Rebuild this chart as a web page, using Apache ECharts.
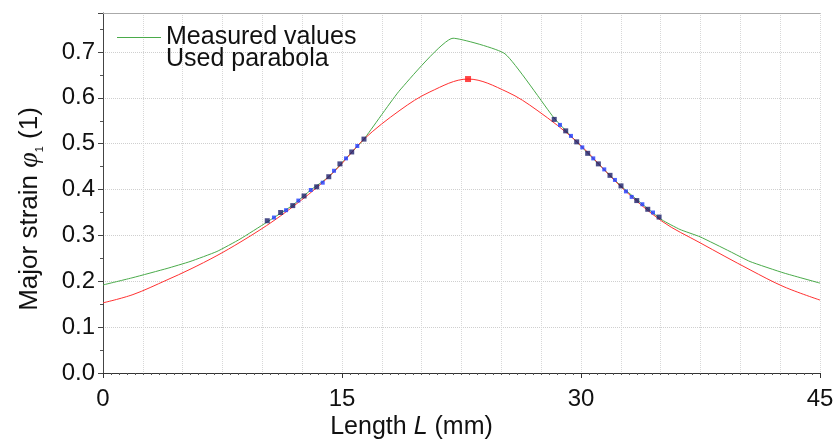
<!DOCTYPE html>
<html>
<head>
<meta charset="utf-8">
<script src="https://cdn.jsdelivr.net/npm/echarts@6/dist/echarts.min.js"></script>
<style>html,body{margin:0;padding:0;background:#fff;}#c{width:837px;height:439px;}</style>
</head>
<body>
<div id="c"></div>
<script>
// Measured values (green polyline)
const measuredX = [0, 1.88, 4.02, 5.46, 7.15, 8.60, 10.29, 11.91, 13.04, 14.17, 15.25, 16.38, 18.64, 21.97, 25.23, 28.31, 29.73, 31.09, 32.50, 33.85, 35.08, 36.21, 37.47, 39.35, 40.61, 42.74, 45.0];
const measuredY = [0.192, 0.208, 0.228, 0.243, 0.265, 0.292, 0.329, 0.366, 0.399, 0.428, 0.468, 0.510, 0.617, 0.730, 0.696, 0.556, 0.504, 0.456, 0.408, 0.368, 0.334, 0.313, 0.297, 0.265, 0.243, 0.218, 0.196];
// Used parabola (red curve)
const parabolaX = [0, 1.88, 4.02, 5.46, 7.15, 8.60, 9.85, 10.67, 11.55, 13.37, 14.87, 16.38, 18.64, 20.52, 22.91, 25.36, 27.24, 29.75, 32.51, 35.08, 37.47, 40.61, 42.74, 45.0];
const parabolaY = [0.153, 0.171, 0.203, 0.226, 0.256, 0.285, 0.312, 0.331, 0.353, 0.403, 0.452, 0.510, 0.573, 0.613, 0.641, 0.613, 0.573, 0.504, 0.406, 0.331, 0.284, 0.225, 0.188, 0.159];
// Fit points (dark and blue markers)
const darkX = [10.31, 11.15, 11.91, 12.62, 13.41, 14.17, 14.87, 15.61, 16.38, 28.32, 29.04, 29.73, 30.42, 31.09, 31.82, 32.51, 33.50, 34.19, 34.90];
const darkY = [0.332, 0.350, 0.365, 0.386, 0.406, 0.428, 0.456, 0.482, 0.510, 0.553, 0.528, 0.504, 0.479, 0.456, 0.431, 0.408, 0.376, 0.357, 0.340];
const blueX = [10.73, 11.49, 12.26, 13.04, 13.79, 14.50, 15.25, 15.96, 28.68, 29.37, 30.08, 30.77, 31.46, 32.13, 32.82, 33.18, 33.85, 34.52];
const blueY = [0.339, 0.355, 0.376, 0.399, 0.415, 0.441, 0.468, 0.495, 0.541, 0.517, 0.492, 0.468, 0.444, 0.421, 0.396, 0.384, 0.368, 0.350];
// Parabola apex
const apexX = [22.91];
const apexY = [0.641];
// Axis ticks
const xTicks = [0, 15, 30, 45];
const yTicks = [0.0, 0.1, 0.2, 0.3, 0.4, 0.5, 0.6, 0.7];

const zip = (xs, ys) => xs.map((x, i) => [x, ys[i]]);
const FONT = 'Liberation Sans, Arial, sans-serif';

const chart = echarts.init(document.getElementById('c'), null, {renderer: 'canvas'});
chart.setOption({
  animation: false,
  backgroundColor: '#fff',
  textStyle: {fontFamily: FONT},
  grid: {left: 103, right: 17, top: 13, bottom: 66, containLabel: false, outerBoundsMode: 'none'},
  legend: {
    orient: 'vertical', left: 112, top: 20, itemWidth: 44, itemHeight: 1, itemGap: -3,
    textStyle: {fontSize: 25, color: '#111', fontFamily: FONT, lineHeight: 25},
    data: [{name: 'Measured values', icon: 'rect'}, {name: 'Used parabola', icon: 'none'}]
  },
  xAxis: [{
    type: 'value', min: xTicks[0], max: xTicks[xTicks.length - 1], interval: 15,
    position: 'bottom', offset: 3,
    axisLine: {show: true, lineStyle: {color: '#333', width: 1}},
    axisTick: {show: true, length: 5, lineStyle: {color: '#333'}},
    minorTick: {show: true, splitNumber: 30, length: 2, lineStyle: {color: '#555'}},
    axisLabel: {fontSize: 24, color: '#111', margin: 11, fontFamily: FONT},
    splitLine: {show: false},
    name: 'Length {i|L} (mm)', nameLocation: 'middle', nameGap: 39, nameMoveOverlap: false,
    nameTextStyle: {fontSize: 25, color: '#111', fontFamily: FONT, padding: [0, 100, 0, 0],
      rich: {i: {fontSize: 25, fontStyle: 'italic', color: '#111', fontFamily: FONT}}}
  }, {
    type: 'value', min: 0, max: 45, interval: 2.5, position: 'top',
    axisLine: {show: true, lineStyle: {color: '#aaa', width: 1}},
    axisTick: {show: false}, axisLabel: {show: false},
    splitLine: {show: true, lineStyle: {color: '#d8d8d8', type: 'dotted', width: 1}}
  }],
  yAxis: {
    type: 'value', min: 0, max: 0.785, interval: 0.1,
    axisLine: {show: true, lineStyle: {color: '#444', width: 1}},
    axisTick: {show: true, length: 5, lineStyle: {color: '#444'}},
    minorTick: {show: true, splitNumber: 2, length: 3, lineStyle: {color: '#555'}},
    axisLabel: {fontSize: 24, color: '#111', margin: 8, fontFamily: FONT, showMaxLabel: false,
      formatter: v => yTicks.some(t => Math.abs(t - v) < 1e-6) ? v.toFixed(1) : ''},
    splitLine: {show: true, lineStyle: {color: '#cfcfcf', type: 'dotted', width: 1}},
    name: '{n|Major strain }{i|φ}{s|1}{n| (1)}', nameLocation: 'middle', nameGap: 58,
    nameTextStyle: {color: '#111', padding: [0, 32, 0, 0],
      rich: {
        n: {fontSize: 26, color: '#111', fontFamily: FONT, lineHeight: 30},
        i: {fontSize: 28, color: '#111', fontFamily: 'Liberation Serif, serif', fontStyle: 'italic', lineHeight: 30},
        s: {fontSize: 11, color: '#111', fontFamily: FONT, verticalAlign: 'bottom', lineHeight: 30, padding: [14, 0, 0, 0]}
      }}
  },
  series: [
    {name: 'Measured values', type: 'line', symbol: 'none', smooth: 0.15, data: zip(measuredX, measuredY),
      lineStyle: {color: '#4aab4a', width: 1}, itemStyle: {color: '#4aab4a'}, z: 2},
    {name: 'Used parabola', type: 'line', symbol: 'none', smooth: 0.35, data: zip(parabolaX, parabolaY),
      lineStyle: {color: '#ff3030', width: 1}, itemStyle: {color: '#ff3030'}, z: 3},
    {name: 'fitDark', type: 'scatter', symbol: 'rect', symbolSize: 5, data: zip(darkX, darkY),
      itemStyle: {color: '#1c1f6b'}, z: 4},
    {name: 'fitBlue', type: 'scatter', symbol: 'rect', symbolSize: 4, data: zip(blueX, blueY),
      itemStyle: {color: '#1f3cff'}, z: 4},
    {name: 'apex', type: 'scatter', symbol: 'rect', symbolSize: 6, data: zip(apexX, apexY),
      itemStyle: {color: '#ff1a1a'}, z: 5}
  ]
});
</script>
</body>
</html>
